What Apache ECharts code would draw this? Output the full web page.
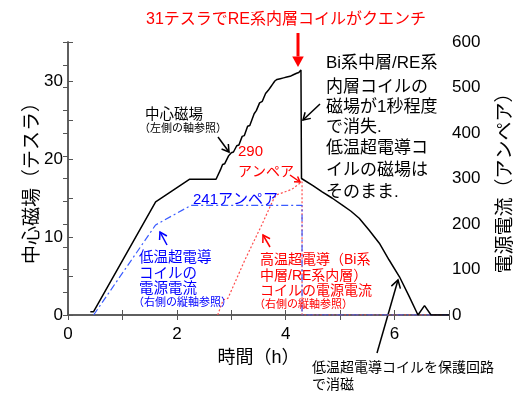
<!DOCTYPE html>
<html>
<head>
<meta charset="utf-8">
<script src="https://cdn.jsdelivr.net/npm/echarts@6/dist/echarts.min.js"></script>
<style>
  html, body { margin: 0; padding: 0; background: #fff; }
  #main { width: 529px; height: 399px; }
</style>
</head>
<body>
<div id="main"></div>
<script>
const FONT = "'Liberation Sans', 'Noto Sans CJK JP', sans-serif";

// 中心磁場 (左軸, テスラ)
const fieldTime = [0.41, 0.47, 1.61, 2.23, 2.72, 2.80, 2.84, 2.88, 2.95, 3.00, 3.04, 3.10, 3.14, 3.20, 3.24,
  3.30, 3.34, 3.42, 3.46, 3.52, 3.57, 3.63, 3.68, 3.72, 3.76, 3.80, 3.84, 3.87, 3.90, 3.93, 3.96, 3.99,
  4.02, 4.05, 4.08, 4.11, 4.14, 4.17, 4.20, 4.24, 4.28, 4.29, 4.30, 4.50, 4.67, 4.85, 5.04, 5.20, 5.35,
  5.53, 5.72, 5.90, 6.09, 6.27, 6.43, 6.55, 6.67, 7.00];
const fieldTesla = [0.42, 0.42, 14.5, 17.4, 17.4, 18.6, 19.3, 19.4, 20.4, 20.8, 20.9, 21.7, 21.8, 22.9, 23.0,
  24.2, 24.3, 25.8, 26.2, 27.2, 27.4, 28.4, 28.8, 29.2, 29.6, 30.0, 30.2, 30.0, 30.3, 30.1, 30.4, 30.2,
  30.5, 30.4, 30.6, 30.5, 30.8, 30.7, 31.0, 31.1, 31.4, 17.5, 17.5, 16.6, 15.8, 15.0, 14.1, 13.3, 12.4,
  10.9, 9.2, 7.05, 4.9, 2.35, 0, 1.2, 0, 0];

// 低温超電導コイルの電源電流 (右軸, アンペア)
const ltsTime = [0.47, 1.61, 2.26, 4.30, 4.30, 7.00];
const ltsAmp = [0, 198, 241, 241, 0, 0];

// 高温超電導コイルの電源電流 (右軸, アンペア)
const htsTime = [2.75, 2.85, 2.94, 3.25, 3.56, 3.77, 3.83, 4.11, 4.30, 4.30, 7.00];
const htsAmp = [0, 33, 37, 121, 198, 253, 264, 276, 293, 0, 0];

const xTicks = [0, 2, 4, 6];
const leftTicks = [0, 10, 20, 30];
const rightTicks = [0, 100, 200, 300, 400, 500, 600];

const pairs = (xs, ys) => xs.map((x, i) => [x, ys[i]]);

function arrow(x1, y1, x2, y2, color, w, head, filled) {
  const a = Math.atan2(y2 - y1, x2 - x1);
  const spread = filled ? 0.5 : 0.55;
  const p1 = [x2 - head * Math.cos(a - spread), y2 - head * Math.sin(a - spread)];
  const p2 = [x2 - head * Math.cos(a + spread), y2 - head * Math.sin(a + spread)];
  const parts = [];
  if (filled) {
    const back = head * Math.cos(spread);
    parts.push({ type: "line", shape: { x1, y1, x2: x2 - back * Math.cos(a), y2: y2 - back * Math.sin(a) }, style: { stroke: color, lineWidth: w } });
    parts.push({ type: "polygon", shape: { points: [p1, [x2, y2], p2] }, style: { fill: color } });
  } else {
    parts.push({ type: "line", shape: { x1, y1, x2, y2 }, style: { stroke: color, lineWidth: w } });
    parts.push({ type: "polyline", shape: { points: [p1, [x2, y2], p2] }, style: { stroke: color, lineWidth: w, fill: null } });
  }
  return { type: "group", children: parts, z: 100 };
}

function label(text, x, y, size, color, align) {
  return {
    type: "text", z: 100, x, y,
    style: { text, fill: color, font: size + "px " + FONT, textAlign: align || "left", textVerticalAlign: "middle" }
  };
}

function lines(texts, x, ys, size, color) {
  return texts.map((t, i) => label(t, x, ys[i], size, color));
}

const chart = echarts.init(document.getElementById("main"));

const axisColor = "#555";
const tickStyle = { inside: true, length: 5, lineStyle: { color: axisColor, width: 1 } };

const option = {
  animation: false,
  backgroundColor: "#fff",
  grid: { left: 68, right: 80, top: 42, bottom: 84 },
  xAxis: [{
    type: "value", min: 0, max: 7, interval: 1, position: "bottom",
    axisLine: { lineStyle: { color: axisColor, width: 1.5 } },
    axisTick: tickStyle,
    axisLabel: { formatter: v => xTicks.includes(v) ? String(v) : "", color: "#000", fontSize: 17, margin: 11, fontFamily: FONT },
    splitLine: { show: false },
    name: "時間（h）", nameLocation: "middle", nameGap: 34, nameMoveOverlap: false,
    nameTextStyle: { color: "#000", fontSize: 18, fontFamily: FONT }
  }, {
    type: "value", min: 0, max: 7, interval: 1, position: "top",
    axisLine: { lineStyle: { color: axisColor, width: 1.5 } },
    axisTick: tickStyle,
    axisLabel: { show: false },
    splitLine: { show: false }
  }],
  yAxis: [{
    type: "value", min: 0, max: 35, interval: 5, position: "left",
    axisLine: { show: true, lineStyle: { color: axisColor, width: 1.5 } },
    axisTick: tickStyle,
    axisLabel: { formatter: v => leftTicks.includes(v) ? String(v) : "", color: "#000", fontSize: 17, margin: 5, fontFamily: FONT },
    splitLine: { show: false },
    name: "中心磁場（テスラ）", nameLocation: "middle", nameRotate: 90, nameGap: 26, nameMoveOverlap: false,
    nameTextStyle: { color: "#000", fontSize: 19, fontFamily: FONT }
  }, {
    type: "value", min: 0, max: 600, interval: 50, position: "right",
    axisLine: { show: true, lineStyle: { color: axisColor, width: 1.5 } },
    axisTick: tickStyle,
    axisLabel: { formatter: v => rightTicks.includes(v) ? String(v) : "", color: "#000", fontSize: 17, margin: 3, fontFamily: FONT },
    splitLine: { show: false },
    name: "電源電流（アンペア）", nameLocation: "middle", nameRotate: 90, nameGap: 47, nameMoveOverlap: false,
    nameTextStyle: { color: "#000", fontSize: 19, fontFamily: FONT }
  }],
  series: [{
    name: "高温超電導コイルの電源電流", type: "line", xAxisIndex: 0, yAxisIndex: 1,
    data: pairs(htsTime, htsAmp), symbol: "none",
    lineStyle: { color: "#ff4d4d", width: 1.2, type: [2, 2] }
  }, {
    name: "低温超電導コイルの電源電流", type: "line", xAxisIndex: 0, yAxisIndex: 1,
    data: pairs(ltsTime, ltsAmp), symbol: "none",
    lineStyle: { color: "#3a5cff", width: 1.2, type: [7, 3, 2, 3] }
  }, {
    name: "中心磁場", type: "line", xAxisIndex: 0, yAxisIndex: 0,
    data: pairs(fieldTime, fieldTesla), symbol: "none",
    lineStyle: { color: "#000", width: 1.5 }
  }],
  graphic: [
    label("31テスラでRE系内層コイルがクエンチ", 286, 20, 16, "#ff0000", "center"),
    arrow(298, 33, 298, 67, "#ff0000", 3, 12, true),
    ...lines(["Bi系中層/RE系", "内層コイルの", "磁場が1秒程度", "で消失.", "低温超電導コ", "イルの磁場は", "そのまま."],
      326, [63, 87, 107, 127, 148, 170, 192], 17, "#000"),
    arrow(320, 104, 303, 120, "#000", 1.5, 8, false),
    label("中心磁場", 145, 115, 14.5, "#000"),
    label("（左側の軸参照）", 139, 129, 11, "#000"),
    arrow(218, 137, 229, 152, "#000", 1.5, 8, false),
    label("290", 238, 152, 15, "#ff0000"),
    label("アンペア", 238, 172, 14, "#ff0000"),
    arrow(290, 175, 300, 182, "#ff0000", 1.5, 6, false),
    label("241アンペア", 193, 200, 15, "#0000ff"),
    ...lines(["低温超電導", "コイルの", "電源電流"], 139, [258, 274, 289], 14.5, "#0000ff"),
    label("（右側の縦軸参照）", 133, 303, 11, "#0000ff"),
    arrow(167, 245, 160, 232, "#0000ff", 1.5, 8, false),
    ...lines(["高温超電導（Bi系", "中層/RE系内層）", "コイルの電源電流"], 260, [260, 276, 291], 14, "#ff0000"),
    label("（右側の縦軸参照）", 254, 305, 11, "#ff0000"),
    arrow(270, 247, 263, 235, "#ff0000", 1.5, 8, false),
    ...lines(["低温超電導コイルを保護回路", "で消磁"], 312, [368, 385], 14, "#000"),
    arrow(377, 353, 398, 280, "#000", 1.5, 9, false)
  ]
};

chart.setOption(option);
</script>
</body>
</html>
